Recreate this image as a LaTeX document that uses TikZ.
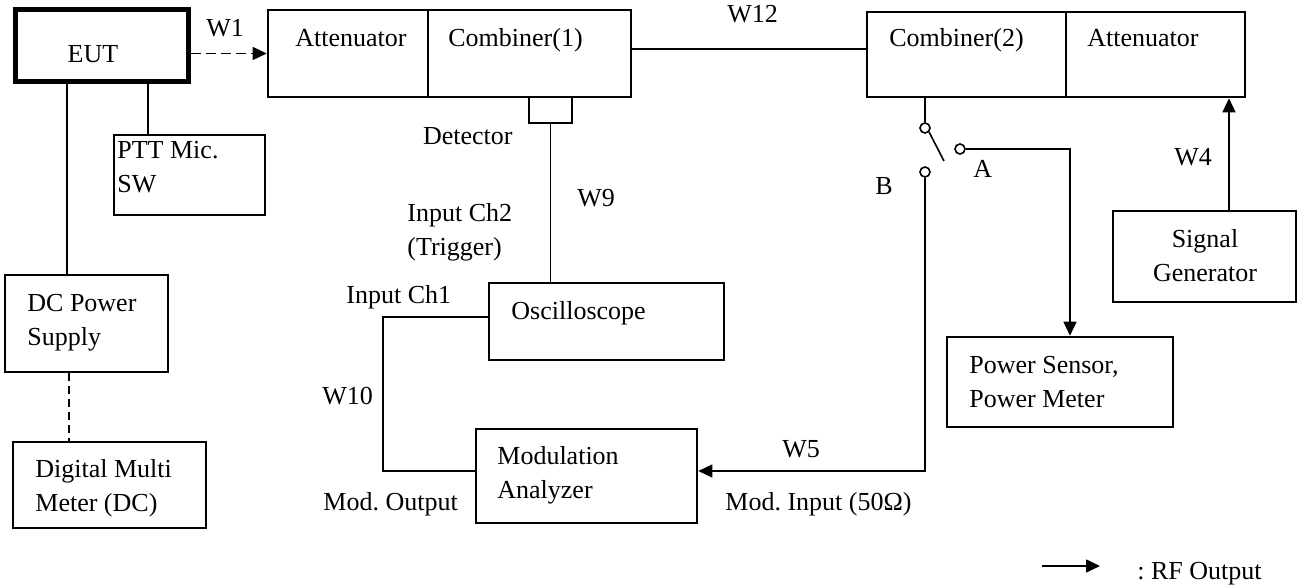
\documentclass[tikz,border=0pt]{standalone}
\usepackage{fontspec}
\setmainfont{Liberation Serif}
\usetikzlibrary{arrows.meta,fit}
\frenchspacing
\begin{document}
\begin{tikzpicture}[x=0.5pt,y=-0.5pt,
  box/.style={draw, line width=1.3pt, inner sep=0pt},
  thickbox/.style={draw, line width=2.5pt, inner sep=0pt},
  wire/.style={line width=0.8pt},
  arr/.style={wire, -{Triangle[length=7pt,width=6.5pt]}},
  txt/.style={inner sep=0pt, anchor=base west, font=\fontsize{13}{17}\selectfont},
  ctxt/.style={inner sep=0pt, anchor=base, font=\fontsize{13}{17}\selectfont},
  rtxt/.style={inner sep=0pt, anchor=base east, font=\fontsize{13}{17}\selectfont},
  sw/.style={draw, circle, line width=0.8pt, minimum size=5pt, inner sep=0pt, fill=white}]
\useasboundingbox (0,0) rectangle (1298,588);

% boxes
\node[thickbox, fit={(15,10) (188,82)}] (eut) {};
\node[box, fit={(268,10) (428,97)}] (att1) {};
\node[box, fit={(428,10) (631,97)}] (comb1) {};
\node[box, fit={(529,97) (572,123)}] (det) {};
\node[box, fit={(867,12) (1066,97)}] (comb2) {};
\node[box, fit={(1066,12) (1245,97)}] (att2) {};
\node[box, fit={(114,135) (265,215)}] (ptt) {};
\node[box, fit={(5,275) (168,372)}] (dcps) {};
\node[box, fit={(13,442) (206,528)}] (dmm) {};
\node[box, fit={(489,283) (724,360)}] (osc) {};
\node[box, fit={(476,429) (697,523)}] (mod) {};
\node[box, fit={(947,337) (1173,427)}] (pwr) {};
\node[box, fit={(1113,211) (1296,302)}] (sg) {};

% box texts
\node[ctxt] (teut) at (93,63) {EUT};
\node[txt] (tatt1) at (295,47) {Attenuator};
\node[txt] (tcomb1) at (448,47) {Combiner(1)};
\node[txt] (tcomb2) at (889,47) {Combiner(2)};
\node[txt] (tatt2) at (1087,47) {Attenuator};
\node[txt] (tptt) at (117,159) {\begin{tabular}[t]{@{}l@{}}PTT Mic.\\SW\end{tabular}};
\node[txt] (tdcps) at (27,312) {\begin{tabular}[t]{@{}l@{}}DC Power\\Supply\end{tabular}};
\node[txt] (tdmm) at (35,478) {\begin{tabular}[t]{@{}l@{}}Digital Multi\\Meter (DC)\end{tabular}};
\node[txt] (tosc) at (511,320) {Oscilloscope};
\node[txt] (tmod) at (497,465) {\begin{tabular}[t]{@{}l@{}}Modulation\\Analyzer\end{tabular}};
\node[txt] (tpwr) at (969,374) {\begin{tabular}[t]{@{}l@{}}Power Sensor,\\Power Meter\end{tabular}};
\node[ctxt] (tsg) at (1205,248) {\begin{tabular}[t]{@{}c@{}}Signal\\Generator\end{tabular}};

% switch
\node[sw] (s1) at (925,128) {};
\node[sw] (sA) at (960,149) {};
\node[sw] (sB) at (925,172) {};
\coordinate (armend) at (944,161);

% connectors
\draw[arr, dash pattern=on 5pt off 2.5pt] (eut.east |- att1.west) -- (att1.west);
\draw[wire] (comb1.east |- 0,49) -- (comb2.west |- 0,49);
\draw[wire] (eut.south -| 67,0) -- (dcps.north -| 67,0);
\draw[wire] (eut.south -| 148,0) -- (ptt.north -| 148,0);
\draw[wire, dash pattern=on 4pt off 2.5pt] (dcps.south -| 69,0) -- (dmm.north -| 69,0);
\draw[wire] (det.south) -- (osc.north -| det.south);
\draw[wire] (osc.west |- 0,317) -- (383,317) -- (383,471) -- (mod.west |- 0,471);
\draw[wire] (comb2.south -| s1.north) -- (s1.north);
\draw[wire] (s1.south east) -- (armend);
\draw[arr] (sA.east) -- (1070,149) -- (pwr.north -| 1070,0);
\draw[arr] (sB.south) -- (925,471) -- (mod.east |- 0,471);
\draw[arr] (sg.north -| 1229,0) -- (att2.south -| 1229,0);
\coordinate (lg1) at (1042,566);
\coordinate (lg2) at (1100,566);
\draw[arr] (lg1) -- (lg2);

% labels
\node[txt] (lw1) at (206,37) {W1};
\node[txt] (lw12) at (727,23) {W12};
\node[rtxt] (ldet) at (513,145) {Detector};
\node[txt] (lw9) at (577,207) {W9};
\node[txt] (lch2) at (407,222) {\begin{tabular}[t]{@{}l@{}}Input Ch2\\(Trigger)\end{tabular}};
\node[txt] (lch1) at (346,304) {Input Ch1};
\node[txt] (lw10) at (322,405) {W10};
\node[txt] (lmout) at (323,511) {Mod. Output};
\node[txt] (lw5) at (782,458) {W5};
\node[txt] (lmin) at (725,511) {Mod. Input (50Ω)};
\node[txt] (lA) at (973,178) {A};
\node[txt] (lB) at (875,195) {B};
\node[txt] (lw4) at (1174,166) {W4};
\node[txt] (lrf) at (1137,580) {: RF Output};
\end{tikzpicture}
\end{document}
